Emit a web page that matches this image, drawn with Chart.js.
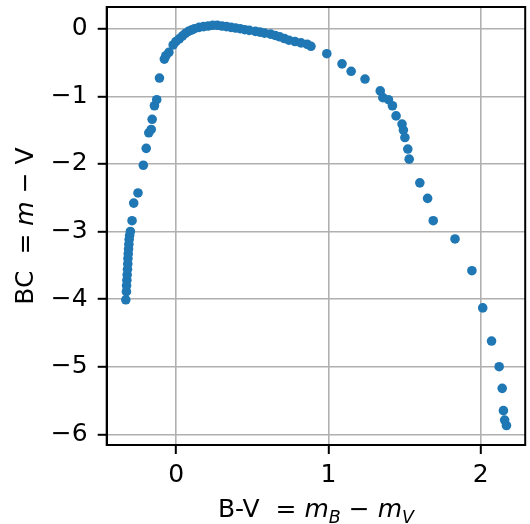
<!DOCTYPE html>
<html lang="en">
<head>
    <meta charset="UTF-8">
    <title>Bolometric correction vs B-V</title>
    <script src="https://cdn.jsdelivr.net/npm/chart.js"></script>
    <style>
        html, body { margin: 0; padding: 0; background: #fff; }
        .wrap { width: 530px; height: 524px; }
    </style>
</head>
<body>
    <div class="wrap"><canvas id="bcChart" width="530" height="524"></canvas></div>
    <script>
        // colour index B-V and bolometric correction
        var bv = [
            -0.331, -0.327, -0.326, -0.324, -0.322, -0.320, -0.318, -0.317, -0.315, -0.313,
            -0.311, -0.309, -0.306, -0.301, -0.290, -0.279, -0.251, -0.216, -0.197, -0.180,
            -0.164, -0.158, -0.143, -0.128, -0.110, -0.078, -0.068, -0.048, -0.020, -0.002,
            0.020, 0.040, 0.060, 0.080, 0.100, 0.120, 0.150, 0.180, 0.210, 0.240,
            0.270, 0.300, 0.330, 0.360, 0.390, 0.420, 0.450, 0.480, 0.520, 0.550,
            0.580, 0.620, 0.650, 0.680, 0.710, 0.740, 0.780, 0.820, 0.860, 0.885,
            0.989, 1.089, 1.149, 1.240, 1.340, 1.357, 1.394, 1.420, 1.444, 1.483,
            1.492, 1.502, 1.521, 1.530, 1.600, 1.651, 1.688, 1.831, 1.942, 2.013,
            2.071, 2.121, 2.141, 2.149, 2.157, 2.169
        ];
        var bc = [
            -4.01, -3.89, -3.80, -3.72, -3.64, -3.56, -3.48, -3.40, -3.33, -3.26,
            -3.19, -3.12, -3.06, -3.00, -2.84, -2.58, -2.43, -2.02, -1.77, -1.54,
            -1.49, -1.34, -1.14, -1.05, -0.73, -0.45, -0.40, -0.35, -0.24, -0.19,
            -0.15, -0.11, -0.07, -0.04, -0.02, 0.00, 0.02, 0.03, 0.04, 0.05,
            0.05, 0.04, 0.03, 0.02, 0.01, 0.00, -0.015, -0.025, -0.04, -0.05,
            -0.065, -0.08, -0.10, -0.12, -0.145, -0.17, -0.19, -0.21, -0.23, -0.26,
            -0.37, -0.52, -0.63, -0.745, -0.92, -1.02, -1.05, -1.14, -1.29, -1.41,
            -1.50, -1.61, -1.78, -1.93, -2.28, -2.51, -2.84, -3.11, -3.58, -4.13,
            -4.62, -5.00, -5.32, -5.65, -5.79, -5.87
        ];
        var xTicks = [0, 1, 2];
        var yTicks = [0, -1, -2, -3, -4, -5, -6];

        var points = bv.map(function(x, i) { return { x: x, y: bc[i] }; });

        function minusLabel(v) {
            return v < 0 ? '\u2212' + Math.abs(v) : String(v);
        }

        // draws a line of text with italic / subscript pieces, centred on (cx, cy)
        function drawRich(ctx, parts, cx, cy, size) {
            var sub = size * 0.7;
            var widths = parts.map(function(p) {
                ctx.font = (p.it ? 'italic ' : '') + (p.sub ? sub : size) + 'px "DejaVu Sans"';
                return ctx.measureText(p.t).width;
            });
            var total = widths.reduce(function(a, b) { return a + b; }, 0);
            var x = cx - total / 2;
            ctx.textBaseline = 'alphabetic';
            ctx.textAlign = 'left';
            ctx.fillStyle = '#000';
            parts.forEach(function(p, i) {
                ctx.font = (p.it ? 'italic ' : '') + (p.sub ? sub : size) + 'px "DejaVu Sans"';
                ctx.fillText(p.t, x, cy + size * 0.36 + (p.sub ? size * 0.22 : 0));
                x += widths[i];
            });
        }

        var framePlugin = {
            id: 'frame',
            afterDraw: function(chart) {
                var ctx = chart.ctx;
                var a = chart.chartArea;
                ctx.save();
                ctx.strokeStyle = '#000';
                ctx.lineWidth = 2;
                ctx.strokeRect(a.left, a.top, a.right - a.left, a.bottom - a.top);

                drawRich(ctx, [
                    { t: 'B-V  = ' },
                    { t: 'm', it: true },
                    { t: 'B', it: true, sub: true },
                    { t: ' \u2212 ' },
                    { t: 'm', it: true },
                    { t: 'V', it: true, sub: true }
                ], (a.left + a.right) / 2, 508, 25);

                ctx.translate(24, (a.top + a.bottom) / 2);
                ctx.rotate(-Math.PI / 2);
                drawRich(ctx, [
                    { t: 'BC  = ' },
                    { t: 'm', it: true },
                    { t: ' \u2212 V' }
                ], 0, 0, 25);
                ctx.restore();
            }
        };

        var ctx = document.getElementById('bcChart').getContext('2d');
        new Chart(ctx, {
            type: 'scatter',
            data: {
                datasets: [{
                    data: points,
                    backgroundColor: '#1f77b4',
                    borderWidth: 0,
                    pointRadius: 4.8,
                    pointHoverRadius: 4.8
                }]
            },
            options: {
                responsive: false,
                animation: false,
                layout: { padding: { top: 7, right: 0, left: 0, bottom: 0 } },
                plugins: {
                    legend: { display: false },
                    tooltip: { enabled: false }
                },
                scales: {
                    x: {
                        type: 'linear',
                        min: -0.4565,
                        max: 2.292,
                        afterBuildTicks: function(scale) {
                            scale.ticks = xTicks.map(function(v) { return { value: v }; });
                        },
                        afterFit: function(scale) {
                            scale.height = 79;
                            scale.paddingLeft = 0;
                            scale.paddingRight = 0;
                        },
                        grid: {
                            color: '#b0b0b0',
                            lineWidth: 1.6,
                            tickLength: 9,
                            tickColor: '#000',
                            tickWidth: 2
                        },
                        border: { display: true, color: '#000', width: 2 },
                        ticks: {
                            color: '#000',
                            padding: 6,
                            maxRotation: 0,
                            font: { family: 'DejaVu Sans', size: 25 },
                            callback: minusLabel
                        }
                    },
                    y: {
                        type: 'linear',
                        min: -6.158,
                        max: 0.321,
                        afterBuildTicks: function(scale) {
                            scale.ticks = yTicks.map(function(v) { return { value: v }; });
                        },
                        afterFit: function(scale) {
                            scale.width = 106.7;
                            scale.paddingTop = 0;
                            scale.paddingBottom = 0;
                        },
                        grid: {
                            color: '#b0b0b0',
                            lineWidth: 1.6,
                            tickLength: 9,
                            tickColor: '#000',
                            tickWidth: 2
                        },
                        border: { display: true, color: '#000', width: 2 },
                        ticks: {
                            color: '#000',
                            padding: 10,
                            font: { family: 'DejaVu Sans', size: 25 },
                            callback: minusLabel
                        }
                    }
                }
            },
            plugins: [framePlugin]
        });
    </script>
</body>
</html>
